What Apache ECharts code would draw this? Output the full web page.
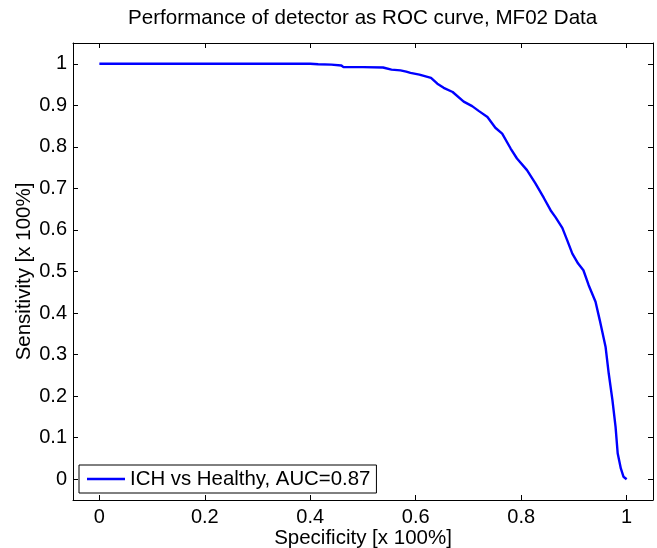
<!DOCTYPE html>
<html>
<head>
<meta charset="utf-8">
<script src="https://cdn.jsdelivr.net/npm/echarts@6/dist/echarts.min.js"></script>
<style>
  html, body { margin: 0; padding: 0; background: #fff; }
  #chart { width: 657px; height: 548px; }
</style>
</head>
<body>
<div id="chart"></div>
<script>
// ---- Data ----
var titleText = 'Performance of detector as ROC curve, MF02 Data';
var xName = 'Specificity [x 100%]';
var yName = 'Sensitivity [x 100%]';
var seriesName = 'ICH vs Healthy, AUC=0.87';

var xTicks = [0, 0.2, 0.4, 0.6, 0.8, 1];
var yTicks = [0, 0.1, 0.2, 0.3, 0.4, 0.5, 0.6, 0.7, 0.8, 0.9, 1];

var specificity = [0, 0.40, 0.415, 0.44, 0.459, 0.463, 0.50, 0.538, 0.554, 0.571, 0.582, 0.590, 0.607,
  0.629, 0.641, 0.653, 0.670, 0.691, 0.707, 0.720, 0.736, 0.751, 0.764, 0.780, 0.792, 0.811,
  0.827, 0.843, 0.856, 0.865, 0.878, 0.887, 0.897, 0.908, 0.918, 0.928, 0.941, 0.949, 0.960,
  0.966, 0.973, 0.979, 0.983, 0.989, 0.994, 1.0];
var sensitivity = [1, 1, 0.999, 0.998, 0.996, 0.992, 0.992, 0.991, 0.986, 0.984, 0.981, 0.978, 0.974,
  0.966, 0.952, 0.942, 0.932, 0.909, 0.898, 0.886, 0.872, 0.846, 0.832, 0.796, 0.772, 0.744,
  0.712, 0.677, 0.647, 0.631, 0.605, 0.576, 0.543, 0.519, 0.503, 0.467, 0.427, 0.383, 0.319,
  0.255, 0.191, 0.126, 0.0625, 0.026, 0.006, 0];

// ---- Chart ----
var points = specificity.map(function (x, i) { return [x, sensitivity[i]]; });
var FONT = '"Liberation Sans", Arial, Helvetica, sans-serif';
var black = '#000';

function frameAxis(extra) {
  var base = {
    type: 'value',
    axisLine: { show: true, onZero: false, lineStyle: { color: black, width: 1 } },
    splitLine: { show: false },
    axisTick: { show: true, inside: true, length: 5, lineStyle: { color: black, width: 1 } },
    axisLabel: { show: false }
  };
  for (var k in extra) base[k] = extra[k];
  return base;
}

var chart = echarts.init(document.getElementById('chart'), null, { renderer: 'canvas' });
chart.setOption({
  animation: false,
  backgroundColor: '#fff',
  title: {
    text: titleText,
    left: 128,
    top: 8,
    padding: 0,
    textStyle: { fontFamily: FONT, fontSize: 20.6, fontWeight: 'normal', color: black }
  },
  grid: { left: 73, right: 4, top: 43, bottom: 48, containLabel: false, outerBoundsMode: 'none' },
  legend: {
    data: [seriesName],
    left: 79,
    top: 465,
    orient: 'horizontal',
    padding: [4, 6, 4, 8],
    backgroundColor: '#fff',
    borderColor: black,
    borderWidth: 1,
    borderRadius: 0,
    icon: 'rect',
    itemWidth: 38,
    itemHeight: 2.5,
    itemStyle: { color: '#0000ff' },
    textStyle: { fontFamily: FONT, fontSize: 20.4, color: black }
  },
  xAxis: [
    frameAxis({
      position: 'bottom', min: -0.05, max: 1.05,
      axisTick: { show: true, inside: true, length: 5, customValues: xTicks, lineStyle: { color: black, width: 1 } },
      axisLabel: { show: true, customValues: xTicks, margin: 7, color: black, fontFamily: FONT, fontSize: 20 },
      name: xName, nameLocation: 'middle', nameGap: 28, nameMoveOverlap: false,
      nameTextStyle: { fontFamily: FONT, fontSize: 20.5, color: black }
    }),
    frameAxis({
      position: 'top', min: -0.05, max: 1.05,
      axisTick: { show: true, inside: true, length: 5, customValues: xTicks, lineStyle: { color: black, width: 1 } }
    })
  ],
  yAxis: [
    frameAxis({
      position: 'left', min: -0.05, max: 1.05,
      axisTick: { show: true, inside: true, length: 5, customValues: yTicks, lineStyle: { color: black, width: 1 } },
      axisLabel: { show: true, customValues: yTicks, margin: 6, color: black, fontFamily: FONT, fontSize: 20 },
      name: yName, nameLocation: 'middle', nameGap: 38, nameMoveOverlap: false,
      nameTextStyle: { fontFamily: FONT, fontSize: 20.5, color: black }
    }),
    frameAxis({
      position: 'right', min: -0.05, max: 1.05,
      axisTick: { show: true, inside: true, length: 5, customValues: yTicks, lineStyle: { color: black, width: 1 } }
    })
  ],
  series: [{
    name: seriesName,
    type: 'line',
    xAxisIndex: 0,
    yAxisIndex: 0,
    data: points,
    showSymbol: false,
    symbol: 'none',
    smooth: false,
    lineStyle: { color: '#0000ff', width: 2.4 },
    itemStyle: { color: '#0000ff' },
    z: 2
  }]
});
</script>
</body>
</html>
